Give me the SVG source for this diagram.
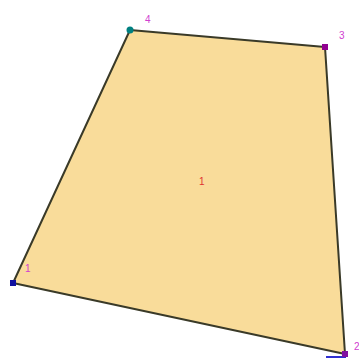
<svg xmlns="http://www.w3.org/2000/svg" width="359" height="363" viewBox="0 0 359 363">
<style>
.lbl{font-family:"Liberation Sans",Arial,sans-serif;font-size:10px;fill:#d040d0}
.pt{stroke:none}
</style>
<rect width="359" height="363" fill="#ffffff"/>
<g id="face1">
<polygon points="13,283 130,30 325,47 345,354" fill="#f9dc9a" stroke="#3a3a28" stroke-width="2" stroke-linejoin="round"/>
<text x="199" y="185" class="lbl" style="fill:#e03030">1</text>
</g>
<g id="connectors">
<line x1="326" y1="357" x2="346" y2="357" stroke="#3030d0" stroke-width="2"/>
</g>
<g id="v1"><rect class="pt" x="10" y="280" width="6" height="6" fill="#1010a0"/><text x="25" y="272" class="lbl">1</text></g>
<g id="v2"><rect class="pt" x="342" y="351" width="6" height="6" fill="#8010a0"/><text x="354" y="350" class="lbl">2</text></g>
<g id="v3"><rect class="pt" x="322" y="44" width="6" height="6" fill="#900090"/><text x="339" y="39" class="lbl">3</text></g>
<g id="v4"><circle class="pt" cx="130" cy="30" r="3.5" fill="#008080"/><text x="145" y="23" class="lbl">4</text></g>
</svg>
